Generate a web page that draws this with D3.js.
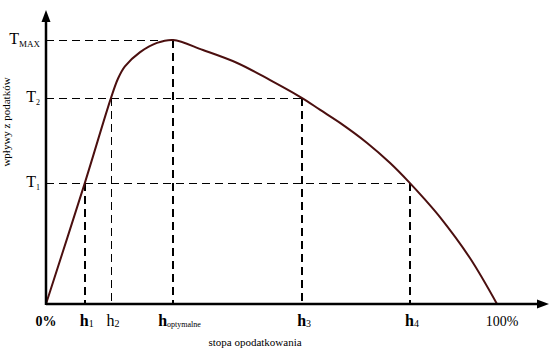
<!DOCTYPE html>
<html>
<head>
<meta charset="utf-8">
<script src="https://cdn.jsdelivr.net/npm/d3@7"></script>
<style>
  body { margin: 0; background: #fff; }
  svg { display: block; font-family: 'Liberation Serif', 'DejaVu Serif', serif; }
  .curve { fill: none; stroke: #4b0f0f; stroke-width: 2; }
  .guide { fill: none; stroke: #000; stroke-dasharray: 8 5; shape-rendering: crispEdges; }
  .axis-line { stroke: #000; stroke-width: 2.5; }
</style>
</head>
<body>
<script>
/* global d3 */

// tax rate (%) vs revenue (TMAX = 100)
let curveRate = [0, 8.6, 14.4, 16.0, 17.5, 20.8, 24.6, 28.2, 34.8, 42.4, 49.7, 56.8, 60.8, 65.2, 71.2, 76.3, 80.7, 84.0, 87.4, 94.0, 100]
let curveRevenue = [0, 45.8, 78.0, 85.5, 90.0, 95.3, 98.9, 100, 96.2, 91.3, 84.8, 78.0, 73.5, 68.6, 61.0, 53.4, 45.8, 39.6, 32.8, 17.4, 0]

let tickNames = ['h1', 'h2', 'hopt', 'h3', 'h4']
let tickRates = [8.6, 14.4, 28.2, 56.8, 80.7]
let tickRevenues = [45.8, 78.0, 100, 78.0, 45.8]
let tickBold = [true, false, true, true, true]

let levelNames = ['T1', 'T2', 'TMAX']
let levelRevenues = [45.8, 78.0, 100]

function main () {
  let viz = new LafferViz()
  viz.render()
}

// snap a coordinate so 1px lines stay black instead of grey
function snap (v, width) {
  return width % 2 === 1 ? Math.round(v) + 0.5 : Math.round(v)
}

class LafferViz {
  constructor () {
    this.dimensions = {width: 550, height: 354, left: 46, bottom: 304, right: 497, top: 40}
    this.svg = d3.select('body').append('svg')
      .attr('width', this.dimensions.width)
      .attr('height', this.dimensions.height)
    this.scales = {
      x: d3.scaleLinear().domain([0, 100]).range([this.dimensions.left, this.dimensions.right]),
      y: d3.scaleLinear().domain([0, 100]).range([this.dimensions.bottom, this.dimensions.top]),
    }
  }

  render () {
    this.renderGuides()
    this.renderCurve()
    this.renderAxes()
    this.renderLabels()
  }

  renderGuides () {
    let {x, y} = this.scales
    let g = this.svg.append('g')
    levelNames.forEach((name, i) => {
      let pointIndex = tickRevenues.lastIndexOf(levelRevenues[i])
      let yy = snap(y(levelRevenues[i]), 1)
      g.append('line').attr('class', 'guide')
        .attr('x1', x(0)).attr('x2', x(tickRates[pointIndex]))
        .attr('y1', yy).attr('y2', yy)
        .attr('stroke-width', 1)
    })
    tickNames.forEach((name, i) => {
      let w = tickBold[i] ? 2 : 1
      let xx = snap(x(tickRates[i]), w)
      g.append('line').attr('class', 'guide')
        .attr('x1', xx).attr('x2', xx)
        .attr('y1', y(tickRevenues[i])).attr('y2', y(0))
        .attr('stroke-width', w)
    })
  }

  renderCurve () {
    let {x, y} = this.scales
    let points = curveRate.map((r, i) => ({rate: r, revenue: curveRevenue[i]}))
    this.svg.append('path')
      .datum(points)
      .attr('class', 'curve')
      .attr('d', d3.line()
        .x(d => x(d.rate))
        .y(d => y(d.revenue))
        .curve(d3.curveCatmullRom.alpha(0.5)))
  }

  renderAxes () {
    let d = this.dimensions
    let g = this.svg.append('g')
    g.append('line').attr('class', 'axis-line')
      .attr('x1', d.left).attr('x2', 541).attr('y1', d.bottom).attr('y2', d.bottom)
    g.append('line').attr('class', 'axis-line')
      .attr('x1', d.left).attr('x2', d.left).attr('y1', d.bottom + 1).attr('y2', 18)
    g.append('path')
      .attr('d', `M549,${d.bottom} L537,${d.bottom - 4.5} L537,${d.bottom + 4.5} Z`)
    g.append('path')
      .attr('d', `M${d.left},10 L${d.left - 4.5},22 L${d.left + 4.5},22 Z`)
  }

  renderLabels () {
    let {x, y} = this.scales
    let g = this.svg.append('g').attr('fill', '#000')
    let labelY = 326

    g.append('text').attr('x', x(0)).attr('y', labelY)
      .attr('text-anchor', 'middle').attr('font-size', 14).attr('font-weight', 'bold')
      .text('0%')
    g.append('text').attr('x', x(100) + 5).attr('y', labelY)
      .attr('text-anchor', 'middle').attr('font-size', 14)
      .text('100%')

    let subs = {h1: '1', h2: '2', hopt: 'optymalne', h3: '3', h4: '4'}
    tickNames.forEach((name, i) => {
      let t = g.append('text').attr('y', labelY).attr('font-size', 16)
        .attr('text-anchor', name === 'hopt' ? 'start' : 'middle')
        .attr('x', name === 'hopt' ? x(tickRates[i]) - 15 : x(tickRates[i]) + 2)
        .attr('font-weight', tickBold[i] ? 'bold' : 'normal')
      t.append('tspan').text('h')
      t.append('tspan').attr('font-size', name === 'hopt' ? 8 : 10)
        .attr('font-weight', 'normal').attr('dy', 1)
        .text(subs[name])
    })

    let levelSubs = {T1: '1', T2: '2', TMAX: 'MAX'}
    levelNames.forEach((name, i) => {
      let t = g.append('text').attr('x', 40).attr('y', y(levelRevenues[i]) + 4)
        .attr('text-anchor', 'end').attr('font-size', 16)
      t.append('tspan').text('T')
      t.append('tspan').attr('font-size', name === 'TMAX' ? 9 : 8)
        .attr('dy', 3).text(levelSubs[name])
    })

    g.append('text')
      .attr('transform', `translate(10, 122) rotate(-90)`)
      .attr('text-anchor', 'middle').attr('font-size', 11)
      .text('wpływy z podatków')
    g.append('text').attr('x', 255).attr('y', 346)
      .attr('text-anchor', 'middle').attr('font-size', 11)
      .text('stopa opodatkowania')
  }
}

main()
</script>
</body>
</html>
